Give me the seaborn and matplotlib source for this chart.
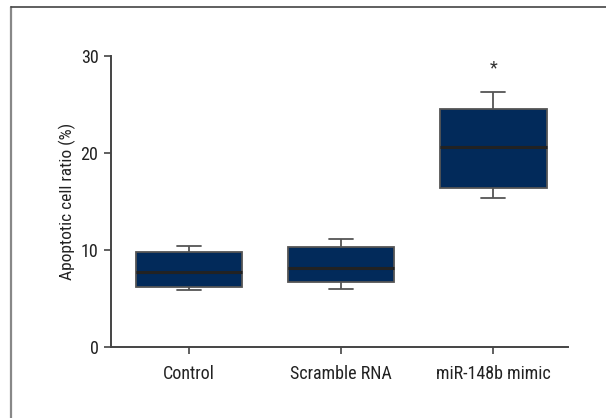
import numpy as np
import pandas as pd
import seaborn as sns
import matplotlib
matplotlib.use("Agg")
import matplotlib.pyplot as plt
from matplotlib.lines import Line2D

sns.set_theme(style="white")
plt.rcParams['font.family'] = ['Roboto Condensed', 'DejaVu Sans Condensed', 'Open Sans Condensed', 'DejaVu Sans']
plt.rcParams['font.stretch'] = 'condensed'

# five-number summaries: low whisker, Q1, median, Q3, high whisker
groups = ["Control", "Scramble RNA", "miR-148b mimic"]
control = [5.91, 6.15, 7.74, 9.78, 10.44]
scramble = [5.95, 6.71, 8.16, 10.37, 11.16]
mimic = [15.42, 16.45, 20.60, 24.61, 26.37]
star_y = 28.8

df = pd.DataFrame({
    "group": np.repeat(groups, 5),
    "ratio": control + scramble + mimic,
})

fig = plt.figure(figsize=(6.06, 4.18), dpi=100)
ax = fig.add_axes([0.183, 0.170, 0.754, 0.695])

sns.boxplot(data=df, x="group", y="ratio", order=groups, ax=ax,
            width=0.7, whis=(0, 100), color="#022a5a", saturation=1,
            linecolor="#555555", linewidth=1.3, capwidths=0.16,
            medianprops=dict(color="#222222", linewidth=2.2))

ax.text(2, star_y, "*", ha="center", va="center", fontsize=13, color="#333333")

ax.set_ylim(0, 30)
ax.set_xlim(-0.515, 2.49)
ax.set_yticks([0, 10, 20, 30])
ax.set_xlabel("")
ax.set_ylabel("Apoptotic cell ratio (%)", fontsize=12.5, color="#222222", labelpad=3)
ax.tick_params(axis="y", left=True, length=5, width=1.2, color="#444444",
               labelsize=13, labelcolor="#222222", pad=4)
ax.tick_params(axis="x", bottom=True, length=5, width=1.2, color="#444444",
               labelsize=13, labelcolor="#222222", pad=8)
sns.despine(ax=ax)
for side in ["left", "bottom"]:
    ax.spines[side].set_color("#444444")
    ax.spines[side].set_linewidth(1.4)

# partial frame around the figure (top and left only)
fig.add_artist(Line2D([11 / 606, 11 / 606], [0, 1 - 7 / 418], color="#888888", linewidth=1.6))
fig.add_artist(Line2D([11 / 606, 1], [1 - 7 / 418, 1 - 7 / 418], color="#444444", linewidth=1.2))

fig.savefig("out.png", dpi=100)
